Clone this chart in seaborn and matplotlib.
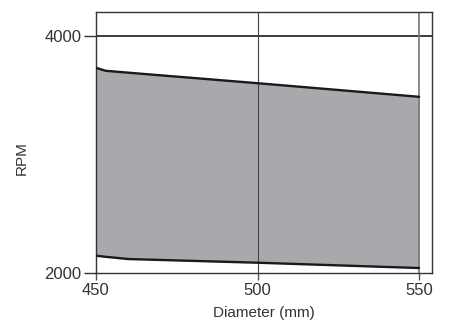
import matplotlib
matplotlib.use("Agg")
import matplotlib.pyplot as plt
import seaborn as sns
import pandas as pd

diameter = [450, 453, 460, 500, 550]
rpm_max = [3735, 3710, 3694, 3605, 3490]
rpm_min = [2146, 2137, 2118, 2087, 2042]
x_ticks = [450, 500, 550]
y_ticks = [2000, 4000]

sns.set_style("white")
plt.rcParams['font.family'] = ['Liberation Sans', 'DejaVu Sans']

fig = plt.figure(figsize=(4.5, 3.24), dpi=100)
ax = fig.add_axes([0.2133, 0.1574, 0.96 - 0.2133, 0.964 - 0.1574])

df = pd.DataFrame({"d": diameter, "hi": rpm_max, "lo": rpm_min})
ax.fill_between(df["d"], df["lo"], df["hi"], color="#a8a9ad", linewidth=0, zorder=1)
sns.lineplot(data=df, x="d", y="hi", ax=ax, color="#1a1a1a", linewidth=1.7, zorder=3)
sns.lineplot(data=df, x="d", y="lo", ax=ax, color="#1a1a1a", linewidth=1.7, zorder=3)

ax.set_xlim(450, 554)
ax.set_ylim(2000, 4210)
ax.set_xticks(x_ticks)
ax.set_yticks(y_ticks)

ax.axhline(4000, color="#1a1a1a", linewidth=1.2, zorder=2)
ax.axvline(500, color="#444444", linewidth=0.8, zorder=2)
ax.axvline(550, color="#777777", linewidth=1.2, zorder=2)

for s in ax.spines.values():
    s.set_color("#333333")
    s.set_linewidth(1.0)

ax.tick_params(axis="y", direction="out", length=8.5, width=1.0, color="#333333",
               labelsize=12, labelcolor="#333333", pad=2)
ax.tick_params(axis="x", direction="out", length=5, width=1.0, color="#555555",
               labelsize=12, labelcolor="#333333", pad=2)
ax.tick_params(left=True, bottom=True)

ax.set_xlabel("Diameter (mm)", fontsize=11, color="#333333", labelpad=6)
ax.set_ylabel("RPM", fontsize=11, color="#333333")
ax.yaxis.set_label_coords(-0.2, 0.44)

fig.savefig("out.png", dpi=100)
